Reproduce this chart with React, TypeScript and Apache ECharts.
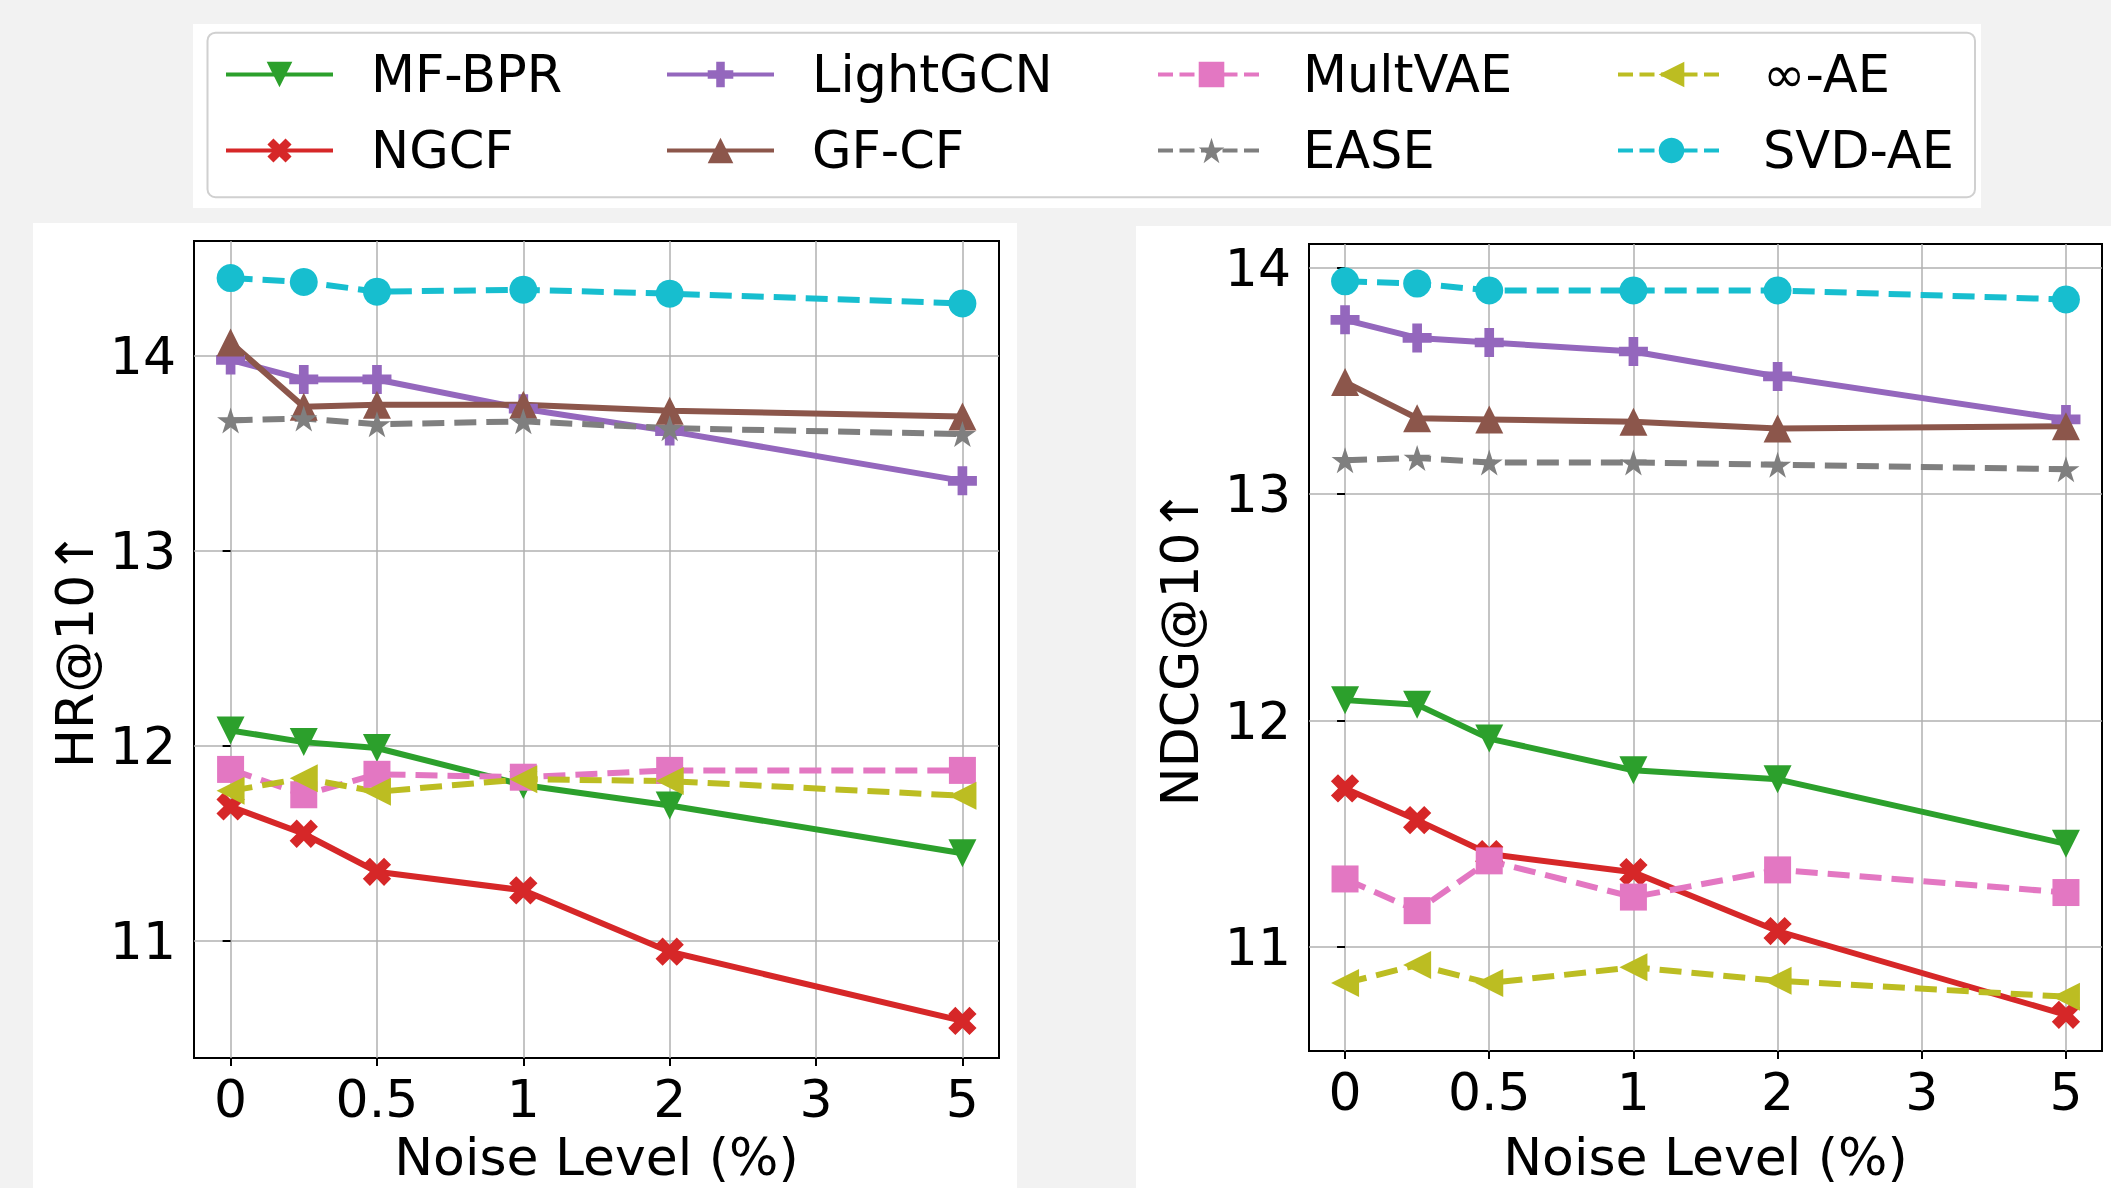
import React, { useEffect, useRef } from "react";
import * as echarts from "echarts";

// ---------- data ----------
const methods = ["MF-BPR", "NGCF", "LightGCN", "GF-CF", "MultVAE", "EASE", "∞-AE", "SVD-AE"];
// plotted x positions of the six noise levels (0, 0.25, 0.5, 1, 2, 5 %)
const xPositions = [0, 0.5, 1, 2, 3, 5];
const tickPositions = [0, 1, 2, 3, 4, 5];
const tickLabels = ["0", "0.5", "1", "2", "3", "5"];
const yTicks = [11, 12, 13, 14];

const hrMFBPR = [12.08, 12.02, 11.99, 11.8, 11.695, 11.45];
const hrNGCF = [11.69, 11.55, 11.355, 11.26, 10.945, 10.59];
const hrLightGCN = [13.98, 13.88, 13.88, 13.73, 13.615, 13.36];
const hrGFCF = [14.07, 13.74, 13.75, 13.75, 13.72, 13.69];
const hrMultVAE = [11.88, 11.75, 11.855, 11.84, 11.875, 11.875];
const hrEASE = [13.67, 13.68, 13.65, 13.665, 13.63, 13.6];
const hrInfAE = [11.77, 11.835, 11.765, 11.83, 11.82, 11.745];
const hrSVDAE = [14.4, 14.38, 14.33, 14.34, 14.32, 14.27];

const ndMFBPR = [12.09, 12.07, 11.92, 11.78, 11.74, 11.455];
const ndNGCF = [11.7, 11.56, 11.41, 11.33, 11.07, 10.7];
const ndLightGCN = [13.77, 13.69, 13.67, 13.63, 13.52, 13.33];
const ndGFCF = [13.495, 13.335, 13.33, 13.32, 13.29, 13.3];
const ndMultVAE = [11.3, 11.16, 11.38, 11.22, 11.34, 11.24];
const ndEASE = [13.15, 13.16, 13.14, 13.14, 13.13, 13.11];
const ndInfAE = [10.84, 10.92, 10.84, 10.91, 10.85, 10.78];
const ndSVDAE = [13.94, 13.93, 13.9, 13.9, 13.9, 13.86];

const hrValues = [hrMFBPR, hrNGCF, hrLightGCN, hrGFCF, hrMultVAE, hrEASE, hrInfAE, hrSVDAE];
const ndValues = [ndMFBPR, ndNGCF, ndLightGCN, ndGFCF, ndMultVAE, ndEASE, ndInfAE, ndSVDAE];

// ---------- styles ----------
const FONT = "DejaVu Sans";
const colors = ["#2ca02c", "#d62728", "#9467bd", "#8c564b", "#e377c2", "#7f7f7f", "#bcbd22", "#17becf"];
const dashed = [false, false, false, false, true, true, true, true];
const PLUS = "path://M-1,-3L1,-3L1,-1L3,-1L3,1L1,1L1,3L-1,3L-1,1L-3,1L-3,-1L-1,-1Z";
const STAR =
  "path://M0,-1L0.2245,-0.309L0.9511,-0.309L0.3633,0.118L0.5878,0.809L0,0.382L-0.5878,0.809L-0.3633,0.118L-0.9511,-0.309L-0.2245,-0.309Z";
const symbols = ["triangle", PLUS, PLUS, "triangle", "rect", STAR, "triangle", "circle"];
const rotations = [180, 45, 0, 0, 0, 0, 90, 0];
const sizes: any[] = [28, 30, 29, 28, 27, [27, 26], 28, 28];

const legendCols = [224, 665, 1156, 1616];

function makeXAxis(gridIndex: number, nameGap: number) {
  return {
    type: "value",
    gridIndex,
    min: -0.25,
    max: 5.25,
    name: "Noise Level (%)",
    nameLocation: "middle",
    nameGap,
    nameTextStyle: { fontFamily: FONT, fontSize: 52, color: "#000" },
    axisLine: { show: false },
    axisTick: { show: true, customValues: tickPositions, length: 8, lineStyle: { color: "#000", width: 2 } },
    axisLabel: {
      customValues: tickPositions,
      formatter: (v: number) => tickLabels[Math.round(v)],
      fontFamily: FONT,
      fontSize: 52,
      color: "#000",
      margin: 15,
    },
    splitLine: { show: true, lineStyle: { color: "#b0b0b0", width: 1.5 } },
  };
}

function makeYAxis(gridIndex: number, min: number, max: number, name: string, nameGap: number) {
  return {
    type: "value",
    gridIndex,
    min,
    max,
    name,
    nameLocation: "middle",
    nameRotate: 90,
    nameGap,
    nameTextStyle: { fontFamily: FONT, fontSize: 52, color: "#000" },
    axisLine: { show: false },
    axisTick: { show: true, customValues: yTicks, length: 8, lineStyle: { color: "#000", width: 2 } },
    axisLabel: {
      customValues: yTicks,
      fontFamily: FONT,
      fontSize: 52,
      color: "#000",
      margin: 18,
    },
    splitLine: { show: true, lineStyle: { color: "#b0b0b0", width: 1.5 } },
  };
}

function makeSeries(values: number[][], axisIndex: number) {
  return methods.map((name, i) => ({
    type: "line",
    name,
    xAxisIndex: axisIndex,
    yAxisIndex: axisIndex,
    data: xPositions.map((x, k) => [x, values[i][k]]),
    symbol: symbols[i],
    symbolSize: sizes[i],
    symbolRotate: rotations[i],
    showAllSymbol: true,
    lineStyle: { color: colors[i], width: 6, type: dashed[i] ? [22, 10] : "solid" },
    itemStyle: { color: colors[i], borderWidth: 0 },
    emphasis: { disabled: true },
    z: 2,
  }));
}

function makeLegends() {
  return legendCols.map((left, c) => ({
    orient: "vertical",
    left,
    top: 49,
    padding: 0,
    itemWidth: 107,
    itemHeight: 32,
    itemGap: 25,
    selectedMode: false,
    textStyle: {
      fontFamily: FONT,
      fontSize: 51,
      color: "#000",
      lineHeight: 50,
      padding: [0, 0, 0, 33],
    },
    data: [methods[2 * c], methods[2 * c + 1]].map((name) => {
      const i = methods.indexOf(name);
      return {
        name,
        lineStyle: { width: 4, type: dashed[i] ? [15, 6.5] : "solid", color: colors[i] },
      };
    }),
  }));
}

export default function App() {
  const ref = useRef<HTMLDivElement>(null);
  useEffect(() => {
    if (!ref.current) return;
    const chart = echarts.init(ref.current, undefined, { renderer: "svg" });
    chart.setOption({
      animation: false,
      backgroundColor: "#f2f2f2",
      graphic: [
        { type: "rect", z: -100, shape: { x: 193, y: 24, width: 1788, height: 184 }, style: { fill: "#ffffff" } },
        {
          type: "rect",
          z: -99,
          shape: { x: 207.5, y: 32.7, width: 1767.5, height: 164.5, r: 8 },
          style: { fill: "#ffffff", stroke: "#d0d0d0", lineWidth: 2 },
        },
        { type: "rect", z: -100, shape: { x: 33, y: 223, width: 984, height: 965 }, style: { fill: "#ffffff" } },
        { type: "rect", z: -100, shape: { x: 1136, y: 226, width: 975, height: 962 }, style: { fill: "#ffffff" } },
      ],
      legend: makeLegends(),
      grid: [
        { left: 194, top: 241, width: 805, height: 821, show: true, borderColor: "#000", borderWidth: 2, backgroundColor: "transparent" },
        { left: 1309, top: 244, width: 793, height: 808, show: true, borderColor: "#000", borderWidth: 2, backgroundColor: "transparent" },
      ],
      xAxis: [makeXAxis(0, 73), makeXAxis(1, 80)],
      yAxis: [makeYAxis(0, 10.4, 14.59, "HR@10↑", 93), makeYAxis(1, 10.54, 14.105, "NDCG@10↑", 103)],
      series: [...makeSeries(hrValues, 0), ...makeSeries(ndValues, 1)],
    });
    return () => chart.dispose();
  }, []);
  return <div ref={ref} style={{ position: "fixed", left: 0, top: 0, width: 2111, height: 1188 }} />;
}
